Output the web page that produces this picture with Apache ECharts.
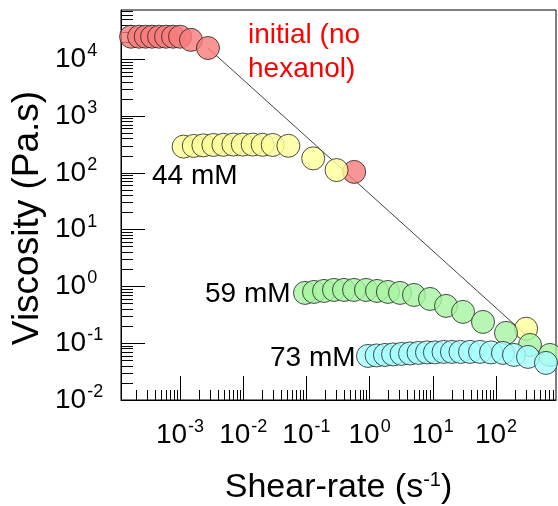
<!DOCTYPE html>
<html>
<head>
<meta charset="utf-8">
<script src="https://cdn.jsdelivr.net/npm/echarts@6/dist/echarts.min.js"></script>
<style>html,body{margin:0;padding:0;background:#fff;}#c{width:558px;height:506px;}</style>
</head>
<body>
<div id="c"></div>
<script>
// ---- data (shear rate in 1/s, viscosity in Pa.s) ----
const redX = [1.68e-4, 2.25e-4, 2.86e-4, 3.61e-4, 4.66e-4, 6.0e-4, 7.75e-4, 1.0e-3, 1.49e-3, 2.77e-3, 0.57];
const redY = [25000, 25000, 25000, 25000, 25000, 25000, 25000, 25000, 22000, 15800, 104];
const yellowX = [1.14e-3, 1.65e-3, 2.34e-3, 3.37e-3, 4.85e-3, 6.98e-3, 9.84e-3, 1.41e-2, 2.03e-2, 2.93e-2, 5.18e-2, 0.128, 0.30, 300];
const yellowY = [290, 298, 305, 310, 312, 315, 315, 315, 312, 310, 300, 180, 112, 0.18];
const greenX = [0.095, 0.132, 0.190, 0.273, 0.393, 0.567, 0.877, 1.31, 1.95, 3.03, 5.04, 9.03, 16.2, 30.1, 62.3, 144, 345, 714];
const greenY = [0.769, 0.80, 0.833, 0.868, 0.868, 0.868, 0.868, 0.833, 0.80, 0.769, 0.708, 0.602, 0.454, 0.356, 0.237, 0.152, 0.0933, 0.0622];
const cyanX = [0.943, 1.29, 1.75, 2.35, 3.20, 4.36, 5.94, 8.09, 10.8, 14.8, 20.1, 27.4, 38.8, 55.9, 83.4, 129, 193, 321, 618];
const cyanY = [0.0597, 0.0609, 0.0622, 0.0635, 0.0648, 0.0661, 0.0675, 0.0689, 0.0689, 0.0703, 0.0703, 0.0703, 0.0703, 0.0703, 0.0689, 0.0675, 0.0622, 0.0574, 0.045];
const lineX = [2.77e-3, 298];
const lineY = [15800, 0.14];
const xTickExps = [-3, -2, -1, 0, 1, 2];
const yTickExps = [-2, -1, 0, 1, 2, 3, 4];
const xRange = [1.164e-4, 891];
const yRange = [0.01, 73800];
const seriesNames = ['initial (no hexanol)', '44 mM', '59 mM', '73 mM'];
const xTitle = 'Shear-rate (s{s|-1})';
const yTitle = 'Viscosity (Pa.s)';

// ---- build ----
const L = Math.log10;
const xMin = L(xRange[0]), xMax = L(xRange[1]);
const yMin = L(yRange[0]), yMax = L(yRange[1]);
function pts(xs, ys) { return xs.map((x, i) => [L(x), L(ys[i])]); }
function minors(lo, hi) {
  const out = [];
  for (let n = Math.floor(lo) - 1; n <= Math.ceil(hi); n++) {
    for (let k = 2; k <= 9; k++) {
      const v = n + L(k);
      if (v > lo && v < hi) out.push(v);
    }
  }
  return out;
}
const FONT = 'Liberation Sans, Arial, sans-serif';
const rich = {
  b: { fontSize: 28, fontFamily: FONT, color: '#000', lineHeight: 30 },
  s: { fontSize: 18, fontFamily: FONT, color: '#000', verticalAlign: 'top', lineHeight: 30, padding: [-2, 0, 0, 1] }
};
function fmt(v) {
  const e = Math.round(v);
  return '{b|10}{s|' + e + '}';
}
const axisLineStyle = { color: '#000', width: 1 };

const chart = echarts.init(document.getElementById('c'), null, { renderer: 'canvas' });
const sym = (color) => ({ color: color, borderColor: '#222', borderWidth: 1 });
chart.setOption({
  animation: false,
  backgroundColor: '#fff',
  grid: { left: 121, right: 2, top: 10, bottom: 106, containLabel: false, outerBoundsMode: 'none', show: true, borderColor: '#000', borderWidth: 1, backgroundColor: 'transparent' },
  xAxis: [
    {
      type: 'value', min: xMin, max: xMax, position: 'bottom',
      axisLine: { show: true, onZero: false, lineStyle: axisLineStyle },
      axisTick: { show: true, inside: true, length: 24, lineStyle: { color: '#000', width: 1 }, customValues: xTickExps },
      axisLabel: { show: true, customValues: xTickExps, formatter: fmt, rich: rich, margin: 20 },
      splitLine: { show: false },
      name: xTitle, nameLocation: 'middle', nameGap: 70,
      nameTextStyle: { fontSize: 34, fontFamily: FONT, color: '#000', rich: { s: { fontSize: 20, fontFamily: FONT, color: '#000', verticalAlign: 'top', lineHeight: 36 } }, lineHeight: 36 }
    },
    {
      type: 'value', min: xMin, max: xMax, position: 'bottom',
      axisLine: { show: false, onZero: false },
      axisTick: { show: true, inside: true, length: 10, lineStyle: { color: '#000', width: 1 }, customValues: minors(xMin, xMax) },
      axisLabel: { show: false },
      splitLine: { show: false }
    }
  ],
  yAxis: [
    {
      type: 'value', min: yMin, max: yMax, position: 'left',
      axisLine: { show: true, onZero: false, lineStyle: axisLineStyle },
      axisTick: { show: true, inside: true, length: 24, lineStyle: { color: '#000', width: 1 }, customValues: yTickExps },
      axisLabel: { show: true, customValues: yTickExps, formatter: fmt, rich: rich, margin: 66, align: 'left' },
      splitLine: { show: false }
    },
    {
      type: 'value', min: yMin, max: yMax, position: 'left',
      axisLine: { show: false, onZero: false },
      axisTick: { show: true, inside: true, length: 12, lineStyle: { color: '#000', width: 1 }, customValues: minors(yMin, yMax) },
      axisLabel: { show: false },
      splitLine: { show: false }
    }
  ],
  series: [
    { type: 'line', data: pts(lineX, lineY), symbol: 'none', lineStyle: { color: '#444', width: 1 }, z: 1, silent: true },
    { name: seriesNames[0], type: 'scatter', data: pts(redX, redY), symbolSize: 23, itemStyle: sym('#F97B7B'), z: 2 },
    { name: seriesNames[1], type: 'scatter', data: pts(yellowX, yellowY), symbolSize: 23, itemStyle: sym('#FFFF9A'), z: 2 },
    { name: seriesNames[2], type: 'scatter', data: pts(greenX, greenY), symbolSize: 23, itemStyle: sym('#A6F5A0'), z: 2 },
    { name: seriesNames[3], type: 'scatter', data: pts(cyanX, cyanY), symbolSize: 23, itemStyle: sym('#A6FFFF'), z: 2 }
  ],
  graphic: [
    { type: 'text', x: 28, y: 218, rotation: Math.PI / 2, style: { text: yTitle, fill: '#000', font: '37px ' + FONT, align: 'center', verticalAlign: 'middle' } },
    { type: 'text', left: 248, top: 18, style: { text: 'initial (no\nhexanol)', fill: '#FF0000', font: '28px ' + FONT, lineHeight: 34 } },
    { type: 'text', left: 152, top: 162, style: { text: seriesNames[1], fill: '#000', font: '28px ' + FONT } },
    { type: 'text', left: 205, top: 280, style: { text: seriesNames[2], fill: '#000', font: '28px ' + FONT } },
    { type: 'text', left: 270, top: 344, style: { text: seriesNames[3], fill: '#000', font: '28px ' + FONT } }
  ]
});
</script>
</body>
</html>
